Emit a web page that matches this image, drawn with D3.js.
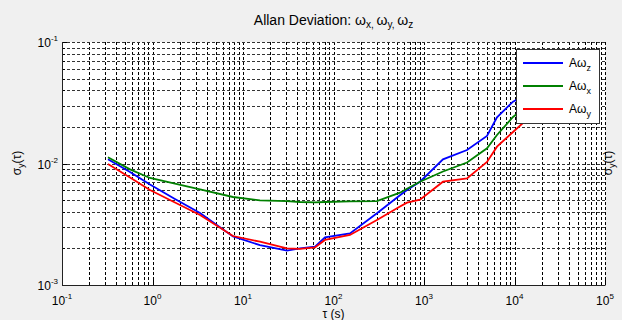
<!DOCTYPE html>
<html><head><meta charset="utf-8">
<script src="https://cdn.jsdelivr.net/npm/d3@7"></script>
<style>
body{margin:0;background:#f0f0f0;}
text{font-family:"Liberation Sans",Arial,sans-serif;fill:#000;}
</style></head>
<body><svg id="c" width="622" height="320"></svg>
<script>
// ---- data ----
const tau = [0.322,0.564,0.938,1.77,3.35,7.75,15.4,30.6,42.6,62.5,80.5,152,302,543,649,903,1621,2987,4968,6405,9625,16850];
const adevZ = [0.01083,0.00851,0.00672,0.00510,0.00391,0.00251,0.00213,0.00192,0.00200,0.00207,0.00247,0.00266,0.00389,0.00548,0.00605,0.00708,0.01083,0.01292,0.01684,0.0240,0.0323,0.0403];
const adevX = [0.01125,0.00894,0.00760,0.00684,0.00613,0.00530,0.00498,0.00491,0.00482,0.00479,0.00482,0.00487,0.00491,0.00575,0.00619,0.00708,0.00859,0.01019,0.01334,0.01717,0.02414,0.0333];
const adevY = [0.00991,0.00767,0.00605,0.00478,0.00377,0.00253,0.00227,0.00200,0.00198,0.00204,0.00235,0.00258,0.00343,0.00442,0.00476,0.00504,0.00708,0.00755,0.01029,0.01375,0.01817,0.0265];
const seriesNames = ["z","x","y"];
const seriesColors = ["#0000ff","#008000","#ff0000"];
const xTickValues = [0.1,1,10,100,1000,10000,100000];
const xTickExps = ["-1","0","1","2","3","4","5"];
const yTickValues = [0.001,0.01,0.1];
const yTickExps = ["-3","-2","-1"];

// ---- layout ----
const L=62,R=605,T=42,B=285;
const svg=d3.select("#c");
const x=d3.scaleLog().domain([0.1,1e5]).range([L,R]);
const y=d3.scaleLog().domain([1e-3,1e-1]).range([B,T]);

svg.append("rect").attr("x",L).attr("y",T).attr("width",R-L).attr("height",B-T).attr("fill","#fff");

function minors(lo,hi){const a=[];for(let e=lo;e<hi;e++){for(let m=1;m<=9;m++)a.push(m*Math.pow(10,e));}a.push(Math.pow(10,hi));return a;}
const xGrid=minors(-1,5), yGrid=minors(-3,-1);

// grid via axes
const gx=svg.append("g").attr("transform",`translate(0,${B})`)
  .call(d3.axisBottom(x).tickValues(xGrid).tickSize(-(B-T)).tickFormat(""));
const gy=svg.append("g").attr("transform",`translate(${L},0)`)
  .call(d3.axisLeft(y).tickValues(yGrid).tickSize(-(R-L)).tickFormat(""));
[gx,gy].forEach(g=>{g.select(".domain").remove();
  g.selectAll(".tick line").attr("stroke","#000").attr("stroke-width",1).attr("stroke-dasharray","3,2").attr("shape-rendering","crispEdges");});
gy.selectAll(".tick line").attr("stroke","#333");

// small solid inner ticks
xGrid.forEach(v=>{const len=xTickValues.includes(v)?5:3;
  svg.append("line").attr("x1",Math.round(x(v))+0.5).attr("x2",Math.round(x(v))+0.5).attr("y1",B).attr("y2",B-len).attr("stroke","#000");});
yGrid.forEach(v=>{const len=yTickValues.includes(v)?5:3;
  svg.append("line").attr("y1",Math.round(y(v))+0.5).attr("y2",Math.round(y(v))+0.5).attr("x1",L).attr("x2",L+len).attr("stroke","#000");});

// axis lines
svg.append("line").attr("x1",L+0.5).attr("x2",L+0.5).attr("y1",T).attr("y2",B+0.5).attr("stroke","#222");
svg.append("line").attr("x1",L).attr("x2",R+0.5).attr("y1",B+0.5).attr("y2",B+0.5).attr("stroke","#222");

// tick labels
xTickValues.forEach((v,i)=>{const t=svg.append("text").attr("x",x(v)).attr("y",305).attr("text-anchor","middle").attr("font-size",12);
  t.append("tspan").text("10"); t.append("tspan").attr("dy",-6).attr("font-size",8).text(xTickExps[i]);});
yTickValues.forEach((v,i)=>{const t=svg.append("text").attr("x",58).attr("y",y(v)+5).attr("text-anchor","end").attr("font-size",12);
  t.append("tspan").text("10"); t.append("tspan").attr("dy",-6).attr("font-size",8).text(yTickExps[i]);});

// lines
const clip=svg.append("clipPath").attr("id","pc").append("rect").attr("x",L).attr("y",T).attr("width",R-L).attr("height",B-T);
const line=d3.line().x((d,i)=>x(tau[i])).y(d=>y(d));
[adevZ,adevX,adevY].forEach((s,k)=>{
  svg.append("path").datum(s).attr("d",line).attr("fill","none").attr("stroke",seriesColors[k]).attr("stroke-width",1.8).attr("clip-path","url(#pc)");
});

// title
const tt=svg.append("text").attr("x",(L+R)/2).attr("y",25).attr("text-anchor","middle").attr("font-size",14);
tt.append("tspan").text("Allan Deviation: ω");
tt.append("tspan").attr("dy",3).attr("font-size",10).text("x");
tt.append("tspan").attr("font-size",10).text(", ");
tt.append("tspan").attr("dy",-3).text("ω");
tt.append("tspan").attr("dy",3).attr("font-size",10).text("y");
tt.append("tspan").attr("font-size",10).text(", ");
tt.append("tspan").attr("dy",-3).text("ω");
tt.append("tspan").attr("dy",3).attr("font-size",10).text("z");

// axis titles
svg.append("text").attr("x",(L+R)/2).attr("y",318).attr("text-anchor","middle").attr("font-size",12).text("τ (s)");
function ylab(cx){const t=svg.append("text").attr("transform",`translate(${cx},163) rotate(-90)`).attr("text-anchor","middle").attr("font-size",12);
  t.append("tspan").text("σ"); t.append("tspan").attr("dy",3).attr("font-size",9).text("y"); t.append("tspan").attr("dy",-3).text("(τ)");}
ylab(21); ylab(612);

// legend
const lg=svg.append("g");
lg.append("rect").attr("x",516.5).attr("y",49.5).attr("width",83).attr("height",74).attr("fill","#fff").attr("stroke","#333");
seriesNames.forEach((n,i)=>{const ly=63+i*23;
  lg.append("line").attr("x1",523).attr("x2",563).attr("y1",ly).attr("y2",ly).attr("stroke",seriesColors[i]).attr("stroke-width",1.8);
  const t=lg.append("text").attr("x",569).attr("y",ly+4).attr("font-size",12);
  t.append("tspan").text("Aω"); t.append("tspan").attr("dy",4).attr("font-size",9).text(n);});
</script></body></html>
